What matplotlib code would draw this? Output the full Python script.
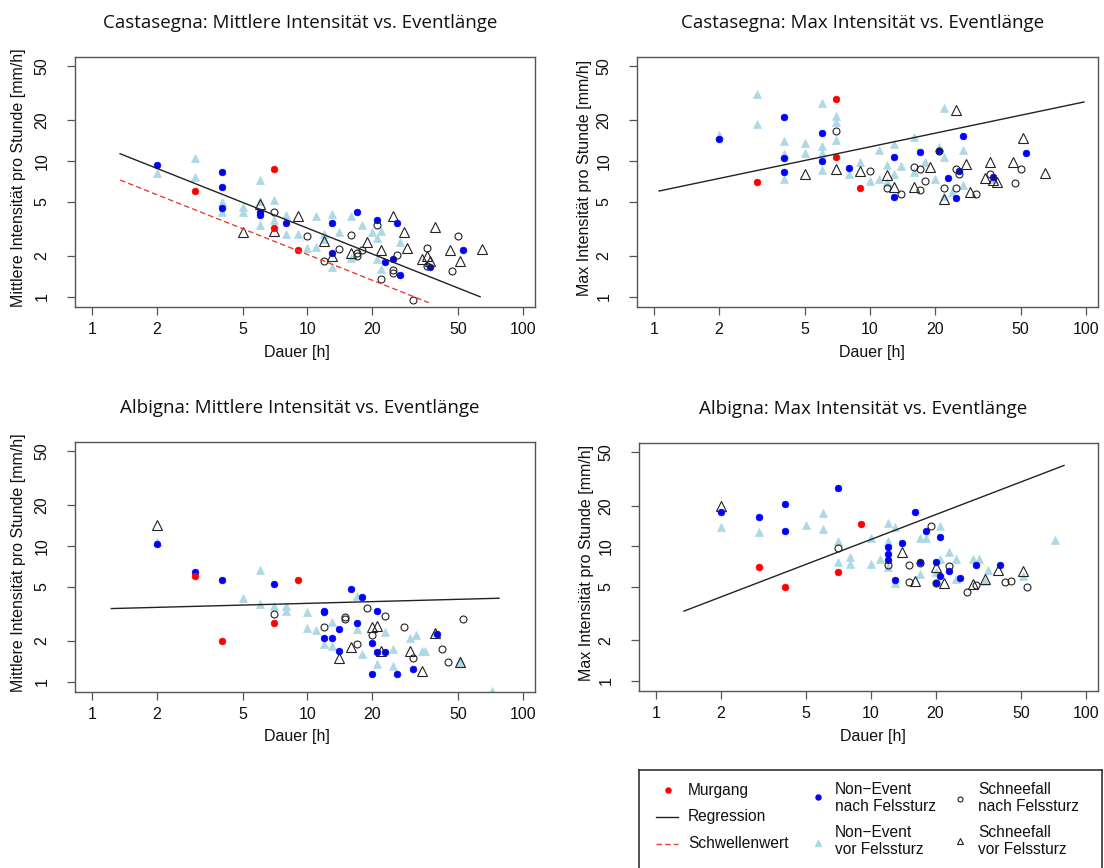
import numpy as np
import matplotlib
matplotlib.use('Agg')
import matplotlib.pyplot as plt
from matplotlib.ticker import NullLocator

plt.rcParams['font.family'] = ['Liberation Sans', 'DejaVu Sans']

# ---------------- data (Dauer [h], Intensität [mm/h]) ----------------
# Castasegna: Mittlere Intensität
cas_mean_murgang = [(7, 8.8), (3, 6.0), (7, 3.2), (9, 2.2)]
cas_mean_ne_nach = [(2, 9.3), (4, 8.3), (4, 6.5), (4, 4.5), (6, 4.2), (6, 4.0), (8, 3.5),
                    (13, 3.5), (13, 2.1), (17, 4.2), (21, 3.7), (26, 3.5), (23, 1.8),
                    (25, 1.9), (27, 1.45), (37, 1.65), (53, 2.2)]
cas_mean_ne_vor = [(2, 8.2), (3, 10.6), (3, 7.7), (4, 5.0), (4, 4.2), (5, 4.6), (5, 4.25),
                   (6, 7.3), (6, 5.1), (6, 3.4), (7, 5.15), (7, 3.7), (8, 4.0), (8, 2.9),
                   (9, 2.9), (10, 2.3), (11, 3.95), (11, 2.35), (12, 2.9), (12, 2.65),
                   (13, 4.1), (13, 1.65), (14, 3.0), (16, 3.95), (16, 1.95), (18, 3.4),
                   (20, 3.0), (21, 2.7), (22, 3.05), (22, 1.6), (21, 1.9), (27, 2.55)]
cas_mean_sf_nach = [(7, 4.2), (10, 2.8), (12, 1.85), (14, 2.25), (16, 2.85), (17, 2.1),
                    (17, 2.0), (18, 2.2), (21, 3.4), (22, 1.35), (25, 1.58), (25, 1.5),
                    (26, 2.05), (31, 0.95), (36, 2.3), (36, 1.7), (50, 2.8), (47, 1.55)]
cas_mean_sf_vor = [(6, 4.8), (5, 3.0), (7, 3.05), (9, 3.95), (12, 2.6), (13, 2.0), (16, 2.1),
                   (19, 2.55), (22, 2.2), (25, 3.95), (28, 3.0), (29, 2.3), (34, 1.9),
                   (36, 2.0), (37, 1.85), (39, 3.25), (46, 2.2), (51, 1.85), (65, 2.25)]
cas_mean_reg = (13.7, -0.63, 1.35, 63.4)      # coef, exponent, x from, x to
cas_mean_thr = (8.77, -0.63, 1.35, 36.6)

# Castasegna: Max Intensität
cas_max_murgang = [(3, 7.0), (7, 28.8), (7, 10.8), (9, 6.3)]
cas_max_ne_nach = [(2, 14.5), (4, 21.3), (4, 10.5), (4, 8.35), (6, 16.1), (6, 10.0), (8, 8.85),
                   (13, 10.8), (13, 5.4), (17, 11.7), (21, 11.8), (23, 7.5), (25, 5.35),
                   (26, 8.4), (27, 15.3), (37, 7.6), (53, 11.4)]
cas_max_ne_vor = [(2, 15.6), (3, 31.0), (3, 18.9), (4, 14.0), (4, 11.3), (4, 7.4), (5, 13.5),
                  (5, 11.4), (6, 26.9), (6, 13.0), (6, 11.4), (6, 8.6), (7, 21.4), (7, 19.5),
                  (7, 14.2), (8, 8.0), (9, 9.8), (10, 7.2), (11, 12.0), (11, 7.4), (12, 9.3),
                  (12, 7.0), (13, 13.4), (13, 8.0), (14, 9.2), (16, 15.0), (16, 8.3),
                  (18, 9.8), (20, 7.4), (21, 12.7), (22, 24.8), (22, 10.8), (22, 5.5),
                  (24, 5.9), (27, 12.1), (27, 6.7), (37, 7.4)]
cas_max_sf_nach = [(7, 16.8), (10, 8.5), (12, 6.3), (14, 5.75), (16, 9.0), (17, 8.8),
                   (17, 6.15), (18, 7.2), (21, 11.8), (22, 6.3), (25, 8.7), (25, 6.3),
                   (26, 8.0), (31, 5.7), (36, 8.1), (47, 6.9), (50, 8.7)]
cas_max_sf_vor = [(5, 8.1), (7, 8.8), (9, 8.4), (12, 7.9), (13, 6.5), (16, 6.5), (19, 9.0),
                  (22, 5.3), (25, 23.8), (28, 9.55), (29, 5.95), (34, 7.55), (36, 9.9),
                  (37, 7.3), (39, 7.0), (46, 9.9), (51, 14.8), (65, 8.2)]
cas_max_reg = (5.92, 0.333, 1.055, 98.2)

# Albigna: Mittlere Intensität
alb_mean_murgang = [(3, 6.0), (4, 2.0), (7, 2.7), (9, 5.6)]
alb_mean_ne_nach = [(2, 10.3), (3, 6.5), (4, 5.6), (7, 5.25), (12, 3.35), (12, 3.25), (12, 2.1),
                    (13, 2.1), (14, 2.45), (14, 1.7), (16, 4.8), (17, 2.7), (18, 4.2),
                    (20, 1.95), (20, 1.15), (21, 3.35), (21, 1.65), (23, 1.65), (26, 1.15),
                    (31, 1.25), (40, 2.25)]
alb_mean_ne_vor = [(2, 10.8), (6, 6.65), (5, 4.15), (6, 3.75), (7, 3.6), (8, 3.65), (8, 3.35),
                   (10, 3.3), (10, 2.5), (11, 2.4), (12, 1.9), (13, 2.75), (13, 1.85),
                   (17, 4.3), (17, 2.45), (18, 1.6), (21, 1.35), (23, 2.35), (25, 1.75),
                   (25, 1.3), (30, 2.1), (32, 2.2), (34, 1.7), (35, 1.7), (51, 1.45),
                   (51, 1.4), (72, 0.86), (39, 2.35)]
alb_mean_sf_nach = [(7, 3.15), (12, 2.55), (15, 3.0), (15, 2.9), (17, 1.9), (19, 3.5),
                    (20, 2.2), (23, 3.05), (28, 2.55), (31, 1.5), (42, 1.75), (45, 1.4),
                    (53, 2.9)]
alb_mean_sf_vor = [(2, 14.3), (14, 1.5), (16, 1.8), (20, 2.55), (21, 2.6), (22, 1.7),
                   (30, 1.7), (34, 1.2), (39, 2.3), (51, 1.4)]
alb_mean_reg = (3.44, 0.0423, 1.23, 77.6)

# Albigna: Max Intensität
alb_max_murgang = [(3, 7.0), (4, 5.0), (7, 6.4), (9, 14.6)]
alb_max_ne_nach = [(2, 17.9), (3, 16.4), (4, 20.5), (4, 12.9), (7, 27.0), (12, 9.9), (12, 8.8),
                   (12, 7.9), (13, 5.6), (14, 10.6), (16, 18.1), (17, 7.7), (18, 13.0),
                   (20, 7.6), (20, 5.35), (21, 11.7), (21, 6.05), (23, 6.6), (26, 5.8),
                   (31, 7.3), (40, 7.3)]
alb_max_ne_vor = [(2, 13.9), (3, 12.7), (5, 14.3), (6, 17.7), (6, 13.4), (7, 11.0), (7, 7.65),
                  (8, 8.35), (8, 7.4), (10, 7.4), (10, 11.5), (11, 8.05), (12, 15.0),
                  (12, 10.9), (12, 7.0), (13, 14.0), (13, 5.35), (17, 11.5), (17, 6.25),
                  (18, 11.5), (21, 14.1), (21, 8.1), (20, 6.45), (23, 9.1), (25, 8.0),
                  (25, 5.7), (30, 8.0), (32, 8.0), (35, 6.65), (34, 5.5), (51, 6.0),
                  (72, 11.1)]
alb_max_sf_nach = [(7, 9.7), (12, 7.3), (15, 7.3), (15, 5.45), (17, 7.5), (19, 14.1),
                   (20, 5.3), (23, 7.1), (28, 4.55), (31, 5.15), (42, 5.45), (45, 5.55),
                   (53, 5.0)]
alb_max_sf_vor = [(2, 19.8), (14, 9.0), (16, 5.5), (20, 7.0), (22, 5.35), (30, 5.25),
                  (34, 5.75), (39, 6.7), (51, 6.55)]
alb_max_reg = (2.75, 0.6115, 1.35, 79.2)

x_ticks = [1, 2, 5, 10, 20, 50, 100]
y_ticks = [1, 2, 5, 10, 20, 50]

titles = ["Castasegna: Mittlere Intensität vs. Eventlänge",
          "Castasegna: Max Intensität vs. Eventlänge",
          "Albigna: Mittlere Intensität vs. Eventlänge",
          "Albigna: Max Intensität vs. Eventlänge"]
ylab_mean = "Mittlere Intensität pro Stunde [mm/h]"
ylab_max = "Max Intensität pro Stunde [mm/h]"
xlab = "Dauer [h]"
legend_labels = ["Murgang", "Regression", "Schwellenwert",
                 "Non\u2212Event\nnach Felssturz", "Non\u2212Event\nvor Felssturz",
                 "Schneefall\nnach Felssturz", "Schneefall\nvor Felssturz"]

# ---------------- styles ----------------
C_RED = '#ff0000'
C_BLUE = '#0000ff'
C_LBLUE = '#add8e6'
FRAME = '#555555'
FS = 11.5

st_vor = dict(ls='none', marker='^', ms=6.0, mfc=C_LBLUE, mec=C_LBLUE, mew=0.5, zorder=2)
st_nach = dict(ls='none', marker='o', ms=4.8, mfc=C_BLUE, mec=C_BLUE, mew=0.5, zorder=3)
st_sfn = dict(ls='none', marker='o', ms=5.0, mfc='none', mec='#222222', mew=0.8, zorder=4)
st_sfv = dict(ls='none', marker='^', ms=6.5, mfc='none', mec='#222222', mew=0.8, zorder=4)
st_murg = dict(ls='none', marker='o', ms=4.8, mfc=C_RED, mec=C_RED, mew=0.5, zorder=5)
st_reg = dict(color='#222222', lw=1.0, zorder=6)
st_thr = dict(color='#e8403a', lw=1.0, dashes=(4, 2.2), zorder=6)

W, H = 1104, 868
fig = plt.figure(figsize=(W / 100, H / 100), dpi=100)


def px_axes(l, t, r, b):
    return fig.add_axes([l / W, 1 - b / H, (r - l) / W, (b - t) / H])


def pts(lst):
    a = np.array(lst, dtype=float)
    return a[:, 0], a[:, 1]


def powerline(ax, params, style):
    coef, expo, x0, x1 = params
    x = np.array([x0, x1])
    ax.plot(x, coef * x ** expo, **style)


def panel(ax, title, ylabel, murg, nach, vor, sfn, sfv, reg, thr=None,
          ylab_off=56.5, xlab_shift=0.0):
    ax.set_xscale('log')
    ax.set_yscale('log')
    ax.plot(*pts(vor), **st_vor)
    ax.plot(*pts(nach), **st_nach)
    ax.plot(*pts(sfn), **st_sfn)
    ax.plot(*pts(sfv), **st_sfv)
    ax.plot(*pts(murg), **st_murg)
    powerline(ax, reg, st_reg)
    if thr is not None:
        powerline(ax, thr, st_thr)
    ax.set_xlim(10 ** -0.079, 10 ** 2.057)
    ax.set_ylim(10 ** -0.074, 10 ** 1.767)
    ax.set_xticks(x_ticks, labels=[str(v) for v in x_ticks])
    ax.set_yticks(y_ticks, labels=[str(v) for v in y_ticks])
    ax.xaxis.set_minor_locator(NullLocator())
    ax.yaxis.set_minor_locator(NullLocator())
    ax.tick_params(direction='out', length=6, width=0.9, color=FRAME,
                   labelsize=FS, labelcolor='#111111')
    ax.tick_params(axis='x', pad=4.5)
    ax.tick_params(axis='y', pad=12.5)
    for lab in ax.get_yticklabels():
        lab.set_rotation(90)
        lab.set_va('center')
        lab.set_ha('right')
    for s in ax.spines.values():
        s.set_color(FRAME)
        s.set_linewidth(1.0)
    bbox = ax.get_position()
    hpx = bbox.height * H
    wpx = bbox.width * W
    ax.set_xlabel(xlab, fontsize=FS, color='#111111')
    ax.xaxis.set_label_coords(0.5 + xlab_shift / wpx, -45 / hpx)
    ax.xaxis.label.set_va('center')
    ax.set_ylabel(ylabel, fontsize=FS, color='#111111')
    ax.yaxis.set_label_coords(-ylab_off / wpx, 0.5 + 4 / hpx)
    ax.yaxis.label.set_va('center')
    ax.text(0.5 - 5 / wpx, 1 + 34 / hpx, title, transform=ax.transAxes, ha='center',
            va='center', fontsize=13.5, family=['Open Sans', 'DejaVu Sans'], color='#111111')


ax1 = px_axes(75, 57, 535, 307)
panel(ax1, titles[0], ylab_mean, cas_mean_murgang, cas_mean_ne_nach, cas_mean_ne_vor,
      cas_mean_sf_nach, cas_mean_sf_vor, cas_mean_reg, cas_mean_thr, xlab_shift=-8)
ax2 = px_axes(637, 57, 1098, 307)
panel(ax2, titles[1], ylab_max, cas_max_murgang, cas_max_ne_nach, cas_max_ne_vor,
      cas_max_sf_nach, cas_max_sf_vor, cas_max_reg, ylab_off=53, xlab_shift=4)
ax3 = px_axes(75, 442, 535, 692)
panel(ax3, titles[2], ylab_mean, alb_mean_murgang, alb_mean_ne_nach, alb_mean_ne_vor,
      alb_mean_sf_nach, alb_mean_sf_vor, alb_mean_reg, xlab_shift=-8)
ax4 = px_axes(639, 443, 1098, 691)
panel(ax4, titles[3], ylab_max, alb_max_murgang, alb_max_ne_nach, alb_max_ne_vor,
      alb_max_sf_nach, alb_max_sf_vor, alb_max_reg, ylab_off=53, xlab_shift=4)

# ---------------- legend (pixel-coordinate box) ----------------
lax = fig.add_axes([639 / W, 0, (1102 - 639) / W, (868 - 770) / H])
lax.set_xlim(639, 1102)
lax.set_ylim(868, 770)
lax.set_xticks([])
lax.set_yticks([])
lax.patch.set_alpha(0)
for k, s in lax.spines.items():
    s.set_color('#333333')
    s.set_linewidth(1.2)
lax.spines['bottom'].set_visible(False)

lk = dict(ms=3.6)
lax.plot([668], [790], ls='none', marker='o', mfc=C_RED, mec=C_RED, **lk)
lax.plot([656, 678], [817, 817], **st_reg)
lax.plot([656, 678], [844, 844], **st_thr)
lax.plot([818], [797], ls='none', marker='o', mfc=C_BLUE, mec=C_BLUE, **lk)
lax.plot([818], [843], ls='none', marker='^', mfc=C_LBLUE, mec=C_LBLUE, ms=4.2)
lax.plot([960], [799], ls='none', marker='o', mfc='none', mec='#222222', mew=0.8, **lk)
lax.plot([960], [841], ls='none', marker='^', mfc='none', mec='#222222', mew=0.8, ms=4.6)

lt = dict(fontsize=11.2, va='center', ha='left', color='#111111', linespacing=1.2)
lax.text(688, 790, legend_labels[0], **lt)
lax.text(688, 817, legend_labels[1], **lt)
lax.text(688, 844, legend_labels[2], **lt)
lax.text(835, 798, legend_labels[3], **lt)
lax.text(835, 841, legend_labels[4], **lt)
lax.text(978, 798, legend_labels[5], **lt)
lax.text(978, 841, legend_labels[6], **lt)

fig.savefig('out.png', dpi=100)
